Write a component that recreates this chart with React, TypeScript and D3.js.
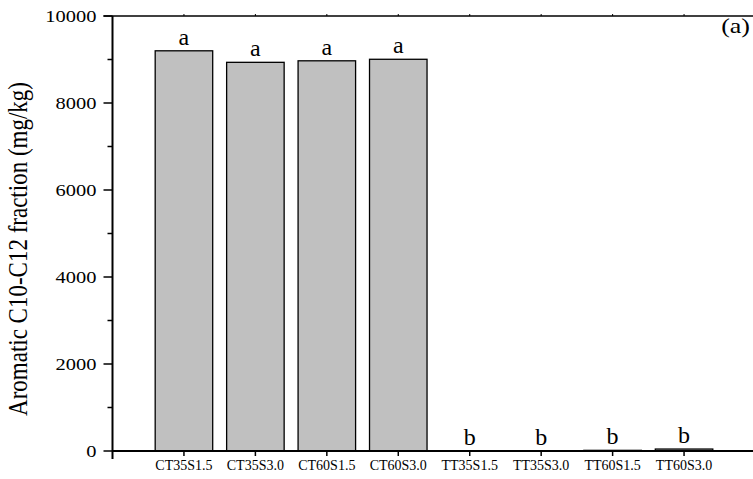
import React from "react";
import * as d3 from "d3";

const categories = ["CT35S1.5", "CT35S3.0", "CT60S1.5", "CT60S3.0", "TT35S1.5", "TT35S3.0", "TT60S1.5", "TT60S3.0"];
const values = [9200, 8935, 8970, 9005, 3, 3, 15, 45];
const letters = ["a", "a", "a", "a", "b", "b", "b", "b"];
const yMajor = [0, 2000, 4000, 6000, 8000, 10000];
const yMinor = [1000, 3000, 5000, 7000, 9000];

const W = 753;
const H = 479;
const L = 112.5;
const T = 16;
const B = 451;
const R = 755.5;

export default function App() {
  const x = d3.scaleLinear().domain([0, 9]).range([L, R]);
  const y = d3.scaleLinear().domain([0, 10000]).range([B, T]);
  const step = x(1) - x(0);
  const bw = step * 0.805;
  const font = "'Liberation Serif', 'Times New Roman', serif";
  return (
    <svg width={W} height={H} style={{ position: "absolute", left: 0, top: 0 }} fontFamily={font}>
      <rect x={0} y={0} width={W} height={H} fill="#fff" />
      {values.map((v, i) => (
        <rect key={"b" + i} x={x(i + 1) - bw / 2} y={y(v)} width={bw} height={y(0) - y(v)} fill="#c0c0c0" stroke="#000" strokeWidth={1.3} />
      ))}
      {values.map((v, i) => (
        <text key={"l" + i} x={x(i + 1)} y={y(v) - 6} textAnchor="middle" fontSize={24}>{letters[i]}</text>
      ))}
      {/* axes */}
      <line x1={L} x2={L} y1={T} y2={B + 8} stroke="#000" strokeWidth={2} />
      <line x1={L} x2={W} y1={B} y2={B} stroke="#000" strokeWidth={2} />
      <line x1={L - 9} x2={W} y1={T} y2={T} stroke="#000" strokeWidth={1.5} />
      {yMajor.map((t) => (
        <g key={"ym" + t}>
          <line x1={L - 9} x2={L} y1={y(t)} y2={y(t)} stroke="#000" strokeWidth={1.5} />
          <text transform={`translate(96.5,${y(t) + 5.5}) scale(1.24,1)`} textAnchor="end" fontSize={16.5}>{t}</text>
        </g>
      ))}
      {yMinor.map((t) => (
        <line key={"yn" + t} x1={L - 5} x2={L} y1={y(t)} y2={y(t)} stroke="#000" strokeWidth={1.5} />
      ))}
      {categories.map((c, i) => (
        <g key={"x" + i}>
          <line x1={x(i + 1)} x2={x(i + 1)} y1={B} y2={B + 5} stroke="#000" strokeWidth={1.5} />
          <line x1={x(i + 1)} x2={x(i + 1)} y1={T} y2={T - 2} stroke="#000" strokeWidth={1} />
          <text x={x(i + 1)} y={470} textAnchor="middle" fontSize={14}>{c}</text>
        </g>
      ))}
      <text transform="translate(27,249) rotate(-90) scale(1,1.18)" textAnchor="middle" fontSize={23}>Aromatic C10-C12 fraction (mg/kg)</text>
      <text transform="translate(750,33) scale(1.3,1)" textAnchor="end" fontSize={20}>(a)</text>
    </svg>
  );
}
